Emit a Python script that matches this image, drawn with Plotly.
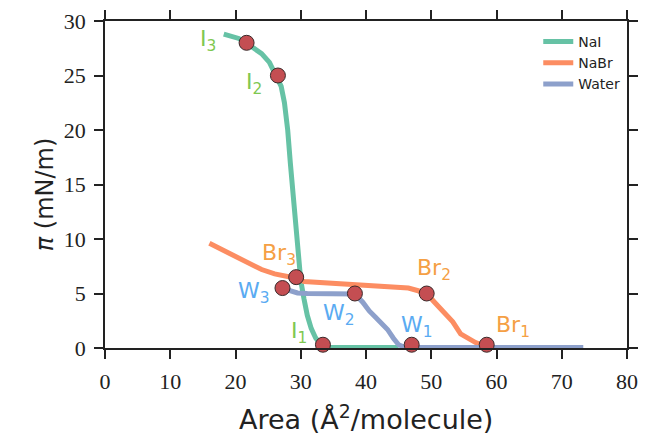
import plotly.graph_objects as go

nai_x = [18.2, 19.5, 20.5, 21.6, 22.8, 24.0, 25.2, 26.3, 27.0, 27.5, 28.0, 28.4, 28.8, 29.2, 29.6, 30.0, 30.5, 31.0, 31.6, 32.3, 33.2, 34.0, 38.0, 42.0, 45.0]
nai_y = [28.8, 28.6, 28.4, 28.0, 27.5, 27.0, 26.2, 25.0, 24.0, 22.5, 20.0, 17.0, 14.0, 11.0, 8.5, 6.2, 4.5, 3.0, 1.8, 0.9, 0.25, 0.05, 0.05, 0.05, 0.05]

nabr_x = [16.0, 18.0, 20.0, 22.0, 24.0, 26.0, 28.0, 29.3, 30.5, 33.0, 36.0, 40.0, 44.0, 46.5, 48.0, 49.3, 50.5, 52.0, 53.3, 54.5, 55.5, 56.8, 58.3]
nabr_y = [9.6, 9.0, 8.4, 7.7, 7.2, 6.8, 6.5, 6.4, 6.1, 6.0, 5.85, 5.7, 5.6, 5.5, 5.25, 5.0, 4.2, 3.2, 2.4, 1.3, 0.9, 0.5, 0.15]

water_x = [27.6, 28.5, 29.5, 31.0, 34.0, 36.0, 38.3, 39.5, 40.5, 41.5, 42.5, 43.3, 44.2, 45.0, 46.0, 50.0, 55.0, 60.0, 65.0, 70.0, 73.3]
water_y = [5.4, 5.2, 5.05, 5.0, 5.0, 5.0, 4.95, 4.2, 3.4, 2.8, 2.2, 1.7, 0.9, 0.3, 0.05, 0.05, 0.05, 0.05, 0.05, 0.05, 0.05]

pts_x = [21.7, 26.5, 33.4, 29.3, 49.3, 58.5, 27.2, 38.3, 47.0]
pts_y = [28.0, 25.0, 0.3, 6.5, 5.0, 0.3, 5.5, 5.0, 0.3]

lab_text = ["I<sub>3</sub>", "I<sub>2</sub>", "I<sub>1</sub>",
            "Br<sub>3</sub>", "Br<sub>2</sub>", "Br<sub>1</sub>",
            "W<sub>3</sub>", "W<sub>2</sub>", "W<sub>1</sub>"]
lab_x = [15.8, 22.8, 29.8, 26.6, 50.4, 62.6, 22.9, 35.9, 47.8]
lab_y = [28.2, 24.3, 1.4, 8.6, 7.2, 2.0, 5.1, 3.1, 2.0]
lab_color = ["#7ec850"] * 3 + ["#f5a044"] * 3 + ["#5aabf2"] * 3

x_title = "Area (Å<sup>2</sup>/molecule)"
y_title = "<i>π</i> (mN/m)"

fig = go.Figure()
fig.add_trace(go.Scatter(x=nai_x, y=nai_y, mode="lines", name="NaI",
                         line=dict(color="#66c2a5", width=5)))
fig.add_trace(go.Scatter(x=nabr_x, y=nabr_y, mode="lines", name="NaBr",
                         line=dict(color="#fc8d62", width=5)))
fig.add_trace(go.Scatter(x=water_x, y=water_y, mode="lines", name="Water",
                         line=dict(color="#8da0cb", width=5)))
fig.add_trace(go.Scatter(x=pts_x, y=pts_y, mode="markers", showlegend=False,
                         marker=dict(size=15, color="#c44e52",
                                     line=dict(color="#3a2a2a", width=1)),
                         cliponaxis=False))
for t, x, y, c in zip(lab_text, lab_x, lab_y, lab_color):
    fig.add_annotation(x=x, y=y, text=t, showarrow=False,
                       font=dict(family="DejaVu Sans", size=22, color=c))

fig.add_annotation(x=0.5, y=-0.214, xref="paper", yref="paper", text=x_title,
                   showarrow=False, xanchor="center", yanchor="middle",
                   font=dict(family="DejaVu Sans", size=27, color="#222"))
fig.add_annotation(x=-0.115, y=0.47, xref="paper", yref="paper", text=y_title,
                   showarrow=False, textangle=-90, xanchor="center", yanchor="middle",
                   font=dict(family="DejaVu Sans", size=24, color="#222"))

axis_common = dict(showline=True, linecolor="#222", linewidth=1.5, mirror="ticks",
                   ticks="outside", ticklen=9, tickwidth=1.5, tickcolor="#222",
                   showgrid=False, zeroline=False, ticklabelstandoff=4, automargin=False,
                   tickfont=dict(family="Liberation Serif", size=22, color="#222"))
fig.update_xaxes(range=[0, 80], tickvals=[0, 10, 20, 30, 40, 50, 60, 70, 80], **axis_common)
fig.update_yaxes(range=[0, 30], tickvals=[0, 5, 10, 15, 20, 25, 30], **axis_common)
fig.update_layout(width=645, height=437, margin=dict(l=105, r=18, t=21, b=89),
                  plot_bgcolor="white", paper_bgcolor="white",
                  legend=dict(x=0.83, y=0.985, xanchor="left", yanchor="top",
                              bgcolor="rgba(0,0,0,0)",
                              font=dict(family="DejaVu Sans", size=14, color="#222")))
fig.write_html("out.html")
